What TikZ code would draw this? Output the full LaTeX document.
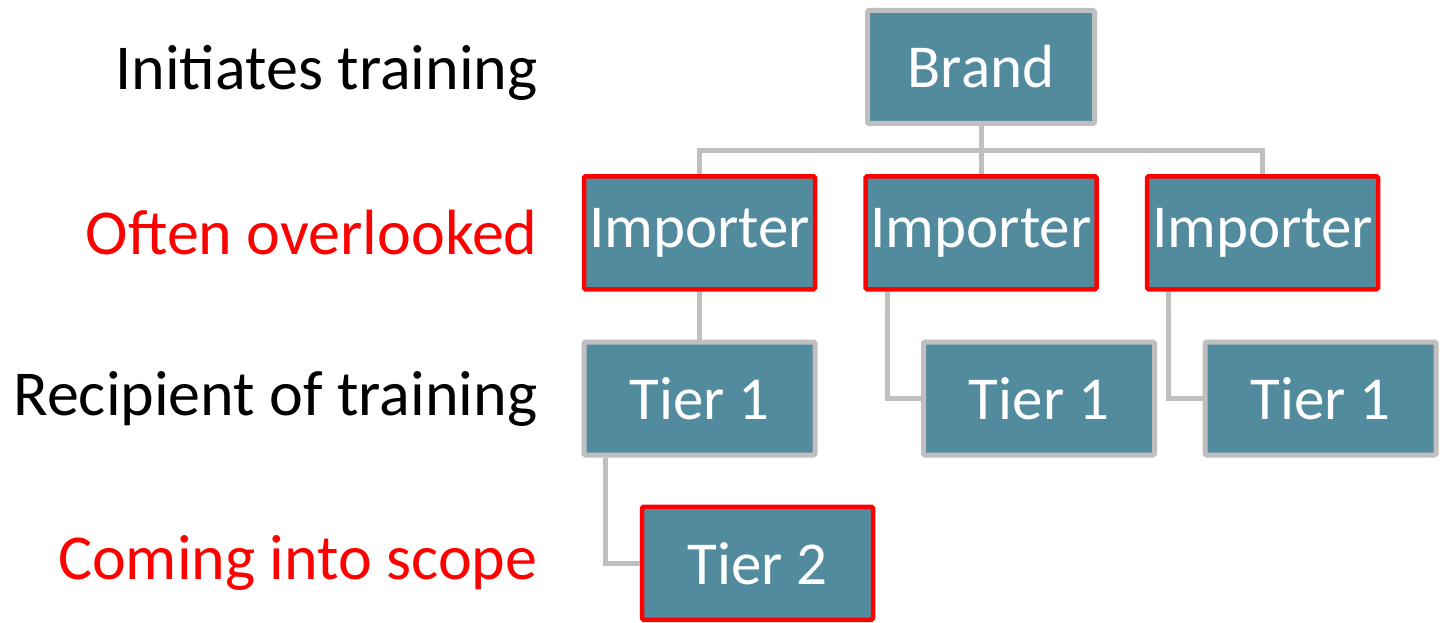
\documentclass[tikz,border=0pt]{standalone}
\usepackage{fontspec}
\setmainfont{Carlito}
\usepackage{tikz}
\usetikzlibrary{positioning}
\definecolor{boxteal}{RGB}{82,139,158}
\definecolor{linegray}{RGB}{191,191,191}
\definecolor{flagred}{RGB}{255,0,0}

\begin{document}
\begin{tikzpicture}[
  x=1pt, y=-1pt,
  node distance=48pt and 46pt,
  box/.style={rectangle, draw=linegray, line width=5pt, fill=boxteal, text=white, minimum width=231pt, minimum height=113pt, rounded corners=1.5pt, font=\fontsize{61}{73}\selectfont},
  flagbox/.style={box, draw=flagred, line width=4.5pt},
  lbl/.style={inner sep=0pt, font=\fontsize{64}{77}\selectfont},
  conn/.style={draw=linegray, line width=5pt}
]
\useasboundingbox (0,0) rectangle (1450,623);

% Brand and importers
\node[box, minimum width=227pt] (brand) at (981,67) {Brand};
\node[flagbox, below=of brand] (imp2) {Importer};
\node[flagbox, left=of imp2] (imp1) {Importer};
\node[flagbox, right=of imp2] (imp3) {Importer};

% Tier 1 and tier 2
\node[box, below=of imp1] (t1a) {Tier 1};
\node[box, below=of imp2, xshift=58pt] (t1b) {Tier 1};
\node[box, below=of imp3, xshift=58pt] (t1c) {Tier 1};
\node[flagbox, below=47pt of t1a, xshift=58pt] (t2) {Tier 2};

% Row labels
\node[lbl, text=flagred, left=44pt of imp1] (often) {Often overlooked};
\node[lbl, left=44pt of t1a] (recip) {Recipient of training};
\node[lbl, anchor=east, yshift=-6pt] (init) at (often.east |- brand) {Initiates training};
\node[lbl, text=flagred, anchor=east] (coming) at (often.east |- t2) {Coming into scope};

% Connectors
\coordinate (bus) at (brand.south |- 0,150);
\draw[conn] (brand) -- (bus);
\draw[conn] (bus) -| (imp1);
\draw[conn] (bus) -| (imp3);
\draw[conn] (bus) -- (imp2);
\draw[conn] (imp1) -- (t1a);
\draw[conn] ([xshift=24pt]imp2.south west) |- (t1b);
\draw[conn] ([xshift=24pt]imp3.south west) |- (t1c);
\draw[conn] ([xshift=24pt]t1a.south west) |- (t2);

\end{tikzpicture}
\end{document}
